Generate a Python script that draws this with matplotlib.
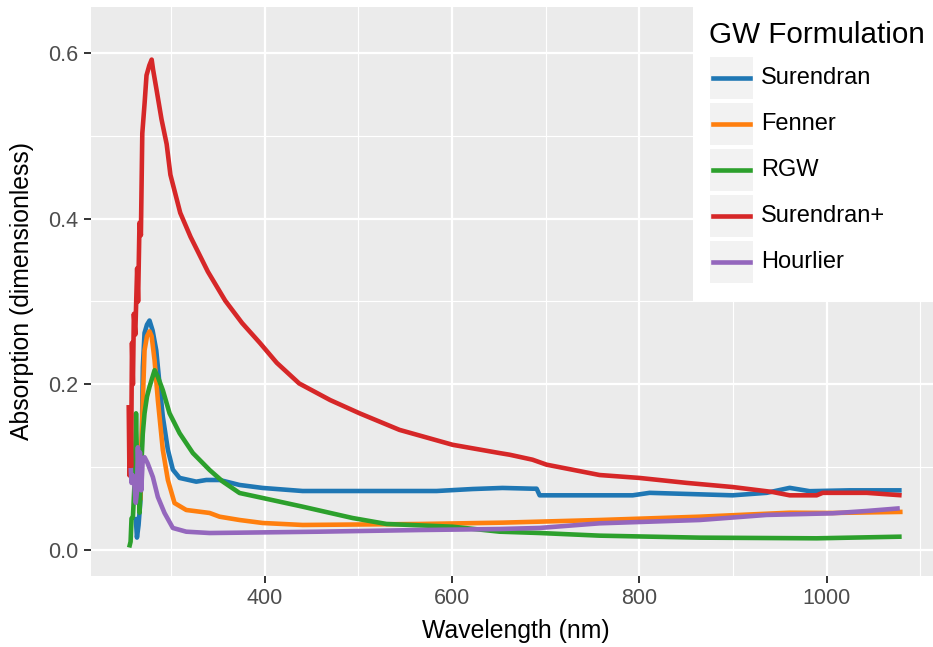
import matplotlib.pyplot as plt
from matplotlib.patches import Rectangle
from matplotlib.lines import Line2D
from matplotlib.ticker import MultipleLocator, FormatStrFormatter

# Absorption spectra (wavelength in nm, absorption)
surendran_wl = [262.5, 263.8, 265.5, 267.5, 268.4, 270.1, 271.9, 274.5, 277.2, 280.5,
                284.4, 287.9, 291.4, 296.8, 302.1, 309.3, 327.1, 337.8, 352.0, 373.3,
                397.9, 440.6, 583.6, 622.0, 654.0, 686.0, 690.4, 693.6, 792.9, 811.0,
                899.6, 935.9, 960.5, 981.8, 1024.5, 1080.0]
surendran_abs = [0.040, 0.015, 0.030, 0.060, 0.085, 0.221, 0.262, 0.272, 0.277, 0.265,
                 0.241, 0.200, 0.161, 0.121, 0.097, 0.087, 0.0825, 0.0845, 0.0845, 0.0785,
                 0.0749, 0.0712, 0.0712, 0.0736, 0.0749, 0.0740, 0.0740, 0.066, 0.066, 0.069,
                 0.066, 0.069, 0.075, 0.071, 0.072, 0.072]

fenner_wl = [267.5, 268.4, 270.1, 271.9, 274.5, 277.2, 279.5, 282.6, 286.1, 291.4,
             296.8, 303.9, 316.4, 341.3, 352.0, 373.3, 397.9, 440.6, 565.5, 654.0,
             757.6, 864.4, 960.5, 1006.4, 1081.0]
fenner_abs = [0.060, 0.121, 0.181, 0.241, 0.258, 0.264, 0.258, 0.229, 0.181, 0.121,
              0.0845, 0.0567, 0.0483, 0.0447, 0.0402, 0.0362, 0.0326, 0.0302, 0.0314, 0.0330,
              0.0362, 0.0402, 0.0450, 0.0447, 0.0460]

rgw_wl = [255.5, 257.0, 258.0, 259.5, 261.5, 262.8, 264.0, 265.5, 266.6, 268.0,
          270.0, 271.9, 274.5, 277.2, 282.6, 286.1, 291.4, 298.6, 309.3, 323.5,
          341.3, 355.5, 373.3, 397.9, 440.6, 493.9, 530.2, 600.7, 650.9, 693.6,
          757.6, 864.4, 989.3, 1080.0]
rgw_abs = [0.003, 0.010, 0.038, 0.040, 0.087, 0.165, 0.100, 0.076, 0.045, 0.090,
           0.140, 0.165, 0.185, 0.197, 0.217, 0.209, 0.193, 0.165, 0.141, 0.117,
           0.0966, 0.0825, 0.0688, 0.0628, 0.0523, 0.0386, 0.0314, 0.0281, 0.0221, 0.0205,
           0.0173, 0.0149, 0.0141, 0.0161]

surendran_plus_wl = [255.0, 255.8, 256.6, 257.5, 258.5, 259.5, 260.5, 262.0, 264.0, 265.0,
                     266.5, 268.0, 269.5, 272.0, 274.0, 277.0, 279.5, 281.0, 284.5, 290.0,
                     295.5, 299.5, 310.0, 321.0, 339.5, 358.0, 376.0, 395.0, 413.0, 437.0,
                     470.0, 501.4, 544.0, 600.7, 650.9, 661.6, 686.0, 701.0, 757.6, 800.0,
                     850.5, 899.6, 942.3, 960.5, 989.3, 995.7, 1042.7, 1080.0]
surendran_plus_abs = [0.175, 0.090, 0.150, 0.100, 0.250, 0.200, 0.285, 0.260, 0.340, 0.300,
                      0.395, 0.380, 0.503, 0.540, 0.573, 0.585, 0.592, 0.580, 0.557, 0.520,
                      0.490, 0.453, 0.407, 0.378, 0.336, 0.301, 0.274, 0.250, 0.226, 0.201,
                      0.181, 0.165, 0.145, 0.127, 0.117, 0.115, 0.109, 0.103, 0.0905, 0.087,
                      0.081, 0.076, 0.070, 0.066, 0.066, 0.069, 0.069, 0.066]

hourlier_wl = [257.2, 258.0, 259.5, 261.2, 262.5, 263.8, 264.8, 266.0, 267.0, 268.4,
               270.0, 271.9, 275.1, 280.8, 286.1, 293.2, 302.1, 316.4, 341.3, 373.3,
               458.7, 565.5, 650.9, 693.6, 757.6, 864.4, 935.9, 1006.4, 1042.7, 1078.0]
hourlier_abs = [0.099, 0.081, 0.090, 0.076, 0.057, 0.070, 0.124, 0.080, 0.118, 0.072,
                0.110, 0.112, 0.105, 0.088, 0.064, 0.0447, 0.0266, 0.0221, 0.0205, 0.0209,
                0.0221, 0.0241, 0.0253, 0.0266, 0.0322, 0.0362, 0.0423, 0.0443, 0.0471, 0.0503]

labels = ["Surendran", "Fenner", "RGW", "Surendran+", "Hourlier"]
colors = ["#1F77B4", "#FF7F0E", "#2CA02C", "#D62728", "#9467BD"]
series = [(surendran_wl, surendran_abs), (fenner_wl, fenner_abs), (rgw_wl, rgw_abs),
          (surendran_plus_wl, surendran_plus_abs), (hourlier_wl, hourlier_abs)]

plt.rcParams['font.family'] = ['Liberation Sans', 'DejaVu Sans']

W, H = 933, 647


def fx(px):
    return px / W


def fy(py):
    return 1 - py / H


fig = plt.figure(figsize=(W / 100, H / 100), dpi=100)
ax = fig.add_axes([fx(91), fy(576), (941 - 91) / W, (576 - 7) / H])
ax.set_facecolor("#EBEBEB")

for (wl, ab), c in zip(series, colors):
    ax.plot(wl, ab, color=c, lw=3.3, solid_joinstyle='round', solid_capstyle='butt')

ax.set_xlim(214.75, 1122)
ax.set_ylim(-0.0314, 0.6555)
ax.xaxis.set_major_locator(MultipleLocator(200))
ax.xaxis.set_minor_locator(MultipleLocator(100))
ax.yaxis.set_major_locator(MultipleLocator(0.2))
ax.yaxis.set_minor_locator(MultipleLocator(0.1))
ax.yaxis.set_major_formatter(FormatStrFormatter('%.1f'))

ax.set_axisbelow(True)
ax.grid(which='major', color='white', lw=1.6)
ax.grid(which='minor', color='white', lw=0.8)
for s in ax.spines.values():
    s.set_visible(False)
ax.tick_params(which='major', length=5, width=1.4, color='#333333',
               labelsize=15.5, labelcolor='#4D4D4D')
ax.tick_params(axis='x', which='major', pad=4)
ax.tick_params(axis='y', which='major', pad=4)
ax.tick_params(which='minor', length=0)

ax.set_xlabel("Wavelength (nm)", fontsize=17.8, color='black', labelpad=7)
ax.set_ylabel("Absorption (dimensionless)", fontsize=17.8, color='black', labelpad=10)

# legend box in the top right corner
fig.patches.append(Rectangle((fx(693), fy(302)), 1 - fx(693), fy(0) - fy(302),
                             transform=fig.transFigure, facecolor='white',
                             edgecolor='none', zorder=5))
fig.text(fx(709), fy(35), "GW Formulation", fontsize=21.3, va='center', ha='left', zorder=6)
for i, (lab, c) in enumerate(zip(labels, colors)):
    top = 57 + i * 46
    fig.patches.append(Rectangle((fx(710), fy(top + 42)), 43 / W, 42 / H,
                                 transform=fig.transFigure, facecolor='#F2F2F2',
                                 edgecolor='none', zorder=6))
    yc = fy(top + 21)
    fig.lines.append(Line2D([fx(713), fx(750)], [yc, yc], transform=fig.transFigure,
                            color=c, lw=3.3, zorder=7))
    fig.text(fx(761), yc, lab, fontsize=17, va='center', ha='left', zorder=7)

fig.savefig("out.png", dpi=100)
